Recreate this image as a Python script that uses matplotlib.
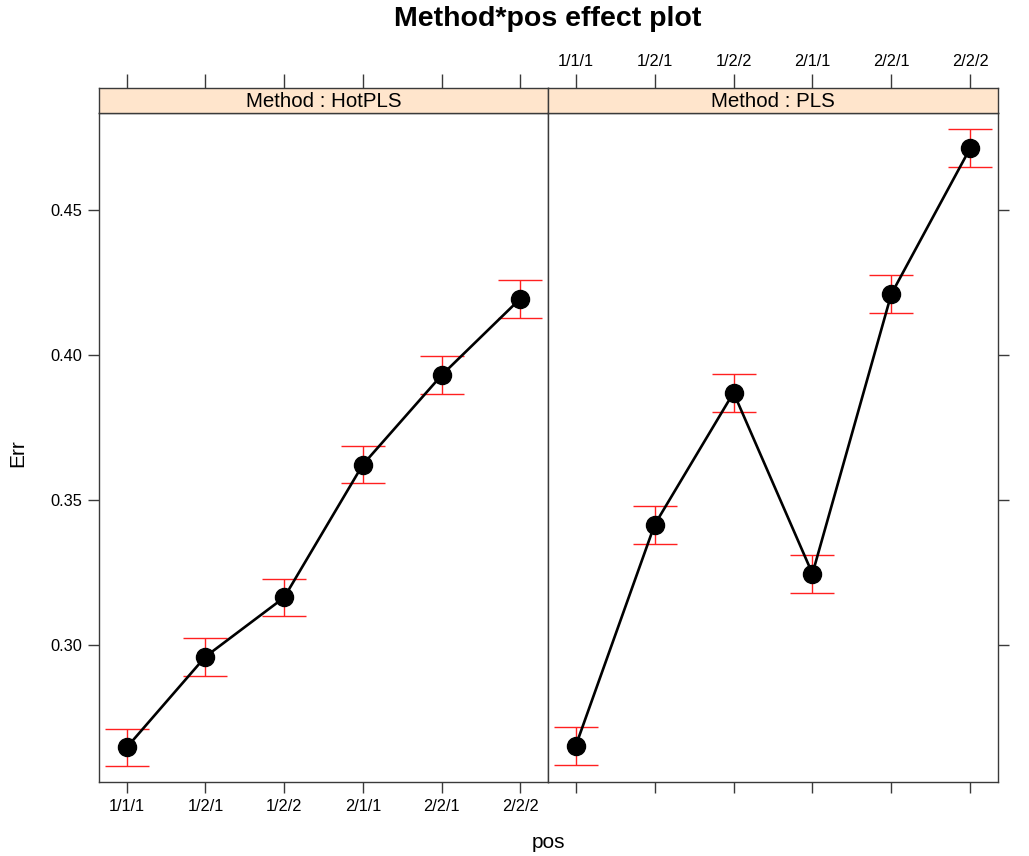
import matplotlib
matplotlib.use("Agg")
import matplotlib.pyplot as plt
import numpy as np

plt.rcParams['font.family'] = ['Liberation Sans', 'DejaVu Sans']

# Effect estimates of Err by position, one panel per Method
positions = ["1/1/1", "1/2/1", "1/2/2", "2/1/1", "2/2/1", "2/2/2"]
methods = ["HotPLS", "PLS"]
err_hotpls = [0.2647, 0.2960, 0.3164, 0.3622, 0.3930, 0.4194]
err_pls = [0.2653, 0.3415, 0.3870, 0.3246, 0.4210, 0.4713]
half_ci_hotpls = [0.0065, 0.0065, 0.0065, 0.0065, 0.0065, 0.0065]
half_ci_pls = [0.0065, 0.0065, 0.0065, 0.0065, 0.0065, 0.0065]
yticks = [0.30, 0.35, 0.40, 0.45]

W, H = 1029, 856
fig = plt.figure(figsize=(W / 100, H / 100), dpi=100)

frame_col = "#3a3a3a"
strip_col = "#ffe5cc"
panel_top, panel_bot = 113, 782
strip_top = 88
panels = [(99, 548), (548, 998)]

def fx(px):
    return px / W

def fy(py):
    return 1 - py / H

ylim = (0.2528, 0.4834)
x = np.arange(1, len(positions) + 1)
tick_fs = 11.8

series = [(err_hotpls, half_ci_hotpls), (err_pls, half_ci_pls)]

for i, ((x0, x1), method, (vals, ci)) in enumerate(zip(panels, methods, series)):
    ax = fig.add_axes([fx(x0), fy(panel_bot), fx(x1 - x0), fy(panel_top) - fy(panel_bot)])
    ax.errorbar(x, vals, yerr=ci, fmt="none", ecolor="#ff2020", elinewidth=1.0,
                capsize=16, capthick=1.0, zorder=2)
    ax.plot(x, vals, color="black", lw=1.9, marker="o", ms=13,
            markerfacecolor="black", markeredgecolor="black", zorder=3)
    ax.set_xlim(0.648, 6.352)
    ax.set_ylim(*ylim)
    for sp in ax.spines.values():
        sp.set_color(frame_col)
        sp.set_linewidth(1.0)
    ax.set_xticks(x)
    ax.set_yticks(yticks)
    ax.tick_params(axis="both", direction="out", length=8, width=1.0, color=frame_col,
                   labelsize=tick_fs, pad=4)
    if i == 0:
        ax.tick_params(axis="x", top=True, bottom=True, labeltop=False, labelbottom=True)
        ax.tick_params(axis="y", left=True, right=False, labelleft=True, labelright=False)
        ax.set_xticklabels(positions)
        ax.set_yticklabels([f"{v:.2f}" for v in yticks])
    else:
        ax.tick_params(axis="x", top=False, bottom=True, labeltop=False, labelbottom=False)
        ax.tick_params(axis="y", left=False, right=True, labelleft=False, labelright=False)

    # strip with the panel's Method level
    sax = fig.add_axes([fx(x0), fy(panel_top), fx(x1 - x0), fy(strip_top) - fy(panel_top)])
    sax.set_facecolor(strip_col)
    sax.set_xlim(0.648, 6.352)
    sax.set_xticks(x)
    sax.set_yticks([])
    for sp in sax.spines.values():
        sp.set_color(frame_col)
        sp.set_linewidth(1.0)
    sax.tick_params(axis="x", direction="out", length=10, width=1.0, color=frame_col,
                    top=True, bottom=False, labelbottom=False, labeltop=(i == 1),
                    labelsize=tick_fs, pad=4)
    if i == 1:
        sax.set_xticklabels(positions)
    sax.text(0.5, 0.47, f"Method : {method}", transform=sax.transAxes,
             ha="center", va="center", fontsize=14.8)

fig.text(fx(548), fy(19), "Method*pos effect plot", ha="center", va="center",
         fontsize=20.5, fontweight="bold")
fig.text(fx(18), fy(453), "Err", ha="center", va="center", rotation=90, fontsize=15)
fig.text(fx(548), fy(843), "pos", ha="center", va="center", fontsize=15)

fig.savefig("out.png", dpi=100)
